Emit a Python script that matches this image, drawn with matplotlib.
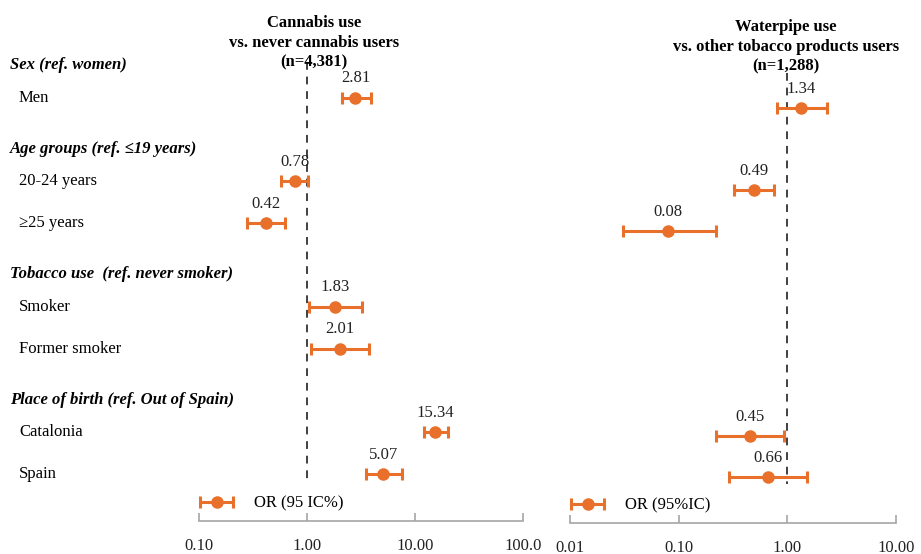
import numpy as np
import matplotlib
matplotlib.use("Agg")
import matplotlib.pyplot as plt
from matplotlib.container import ErrorbarContainer
from matplotlib.legend_handler import HandlerErrorbar
from matplotlib.transforms import blended_transform_factory


plt.rcParams["font.family"] = ["Liberation Serif", "DejaVu Serif"]

# -----------------------------
# Odds ratios and 95% intervals
groups = ["Sex (ref. women)",
          "Age groups (ref. \u226419 years)",
          "Tobacco use  (ref. never smoker)",
          "Place of birth (ref. Out of Spain)"]
rows = ["Men", "20-24 years", "\u226525 years", "Smoker", "Former smoker",
        "Catalonia", "Spain"]
row_group = [0, 1, 1, 2, 2, 3, 3]

cann_or = [2.81, 0.78, 0.42, 1.83, 2.01, 15.34, 5.07]
cann_lo = [2.10, 0.58, 0.28, 1.05, 1.10, 12.0, 3.50]
cann_hi = [3.89, 1.02, 0.63, 3.21, 3.73, 20.0, 7.50]

# waterpipe model has no tobacco-use covariates
wp_rows = [0, 1, 2, 5, 6]
wp_or = [1.34, 0.49, 0.08, 0.45, 0.66]
wp_lo = [0.81, 0.32, 0.031, 0.22, 0.29]
wp_hi = [2.33, 0.75, 0.22, 0.93, 1.51]

cann_ticks = [0.1, 1, 10, 100]
cann_ticklabels = ["0.10", "1.00", "10.00", "100.0"]
wp_ticks = [0.01, 0.1, 1, 10]
wp_ticklabels = ["0.01", "0.10", "1.00", "10.00"]

cann_title = "Cannabis use\nvs. never cannabis users\n(n=4,381)"
wp_title = "Waterpipe use\nvs. other tobacco products users\n(n=1,288)"


# ------
# Layout
W, H = 921, 554
orange = "#E8702A"
grey = "#A6A6A6"
fs = 12

# slot of each row: one blank slot between groups
slot = []
s = 0
for i, g in enumerate(row_group):
    if i > 0 and g != row_group[i - 1]:
        s += 1
    slot.append(s)
    s += 1
slot = np.array(slot, dtype=float)
ylim = (10.12, -2.34)

fig = plt.figure(figsize=(W / 100, H / 100), dpi=100)
ax1 = fig.add_axes([199 / W, (H - 521) / H, 324 / W, 521 / H])
ax2 = fig.add_axes([570 / W, (H - 523) / H, 326 / W, (523 - 12) / H])


def forest(ax, y, est, lo, hi, ticks, ticklabels, legend_label):
    est = np.array(est)
    err = [est - np.array(lo), np.array(hi) - est]
    h = ax.errorbar(est, y, xerr=err, fmt="o", color=orange, ms=8,
                    elinewidth=2.2, capsize=4, capthick=2.2,
                    label=legend_label)
    for xv, yv in zip(est, y):
        ax.annotate("%.2f" % xv, (xv, yv), xytext=(0, 14),
                    textcoords="offset points", ha="center", va="center",
                    fontsize=fs, color="#222222")
    ax.plot([1, 1], [-0.85, 9.18], color="#404040", lw=1.4,
            dashes=(4, 3.5), zorder=0)
    ax.set_xscale("log")
    ax.set_xlim(ticks[0], ticks[-1])
    ax.set_ylim(*ylim)
    ax.set_xticks(ticks)
    ax.set_xticklabels(ticklabels)
    ax.minorticks_off()
    ax.set_yticks([])
    for side in ["top", "left", "right"]:
        ax.spines[side].set_visible(False)
    ax.spines["bottom"].set_color(grey)
    ax.spines["bottom"].set_linewidth(1.2)
    ax.tick_params(axis="x", direction="in", length=6, width=1.2,
                   color=grey, pad=12, labelsize=fs, labelcolor="#222222")
    ax.patch.set_alpha(0)
    ax.legend(handles=[h], loc="center left", frameon=False,
              bbox_to_anchor=(0.0, 1 - (9.7 - ylim[1]) / (ylim[0] - ylim[1])),
              fontsize=fs, handlelength=2.1, handletextpad=1.2,
              borderaxespad=0, borderpad=0,
              handler_map={ErrorbarContainer: HandlerErrorbar(xerr_size=1.0)})


forest(ax1, slot, cann_or, cann_lo, cann_hi, cann_ticks, cann_ticklabels,
       "OR (95 IC%)")
forest(ax2, slot[wp_rows], wp_or, wp_lo, wp_hi, wp_ticks, wp_ticklabels,
       "OR (95%IC)")

# row and group labels down the left side
tr = blended_transform_factory(fig.transFigure, ax1.transData)
for g, name in enumerate(groups):
    first = slot[row_group.index(g)]
    fig.text(10 / W, first - 0.78, name, transform=tr, fontsize=fs,
             fontweight="bold", fontstyle="italic", va="center")
for yv, name in zip(slot, rows):
    fig.text(19 / W, yv, name, transform=tr, fontsize=fs, va="center")

# panel headings
fig.text(314 / W, 1 - 43 / H, cann_title, ha="center", va="center",
         fontsize=fs, fontweight="bold", linespacing=1.32)
fig.text(786 / W, 1 - 47 / H, wp_title, ha="center", va="center",
         fontsize=fs, fontweight="bold", linespacing=1.32)

fig.savefig("out.png", dpi=100)
